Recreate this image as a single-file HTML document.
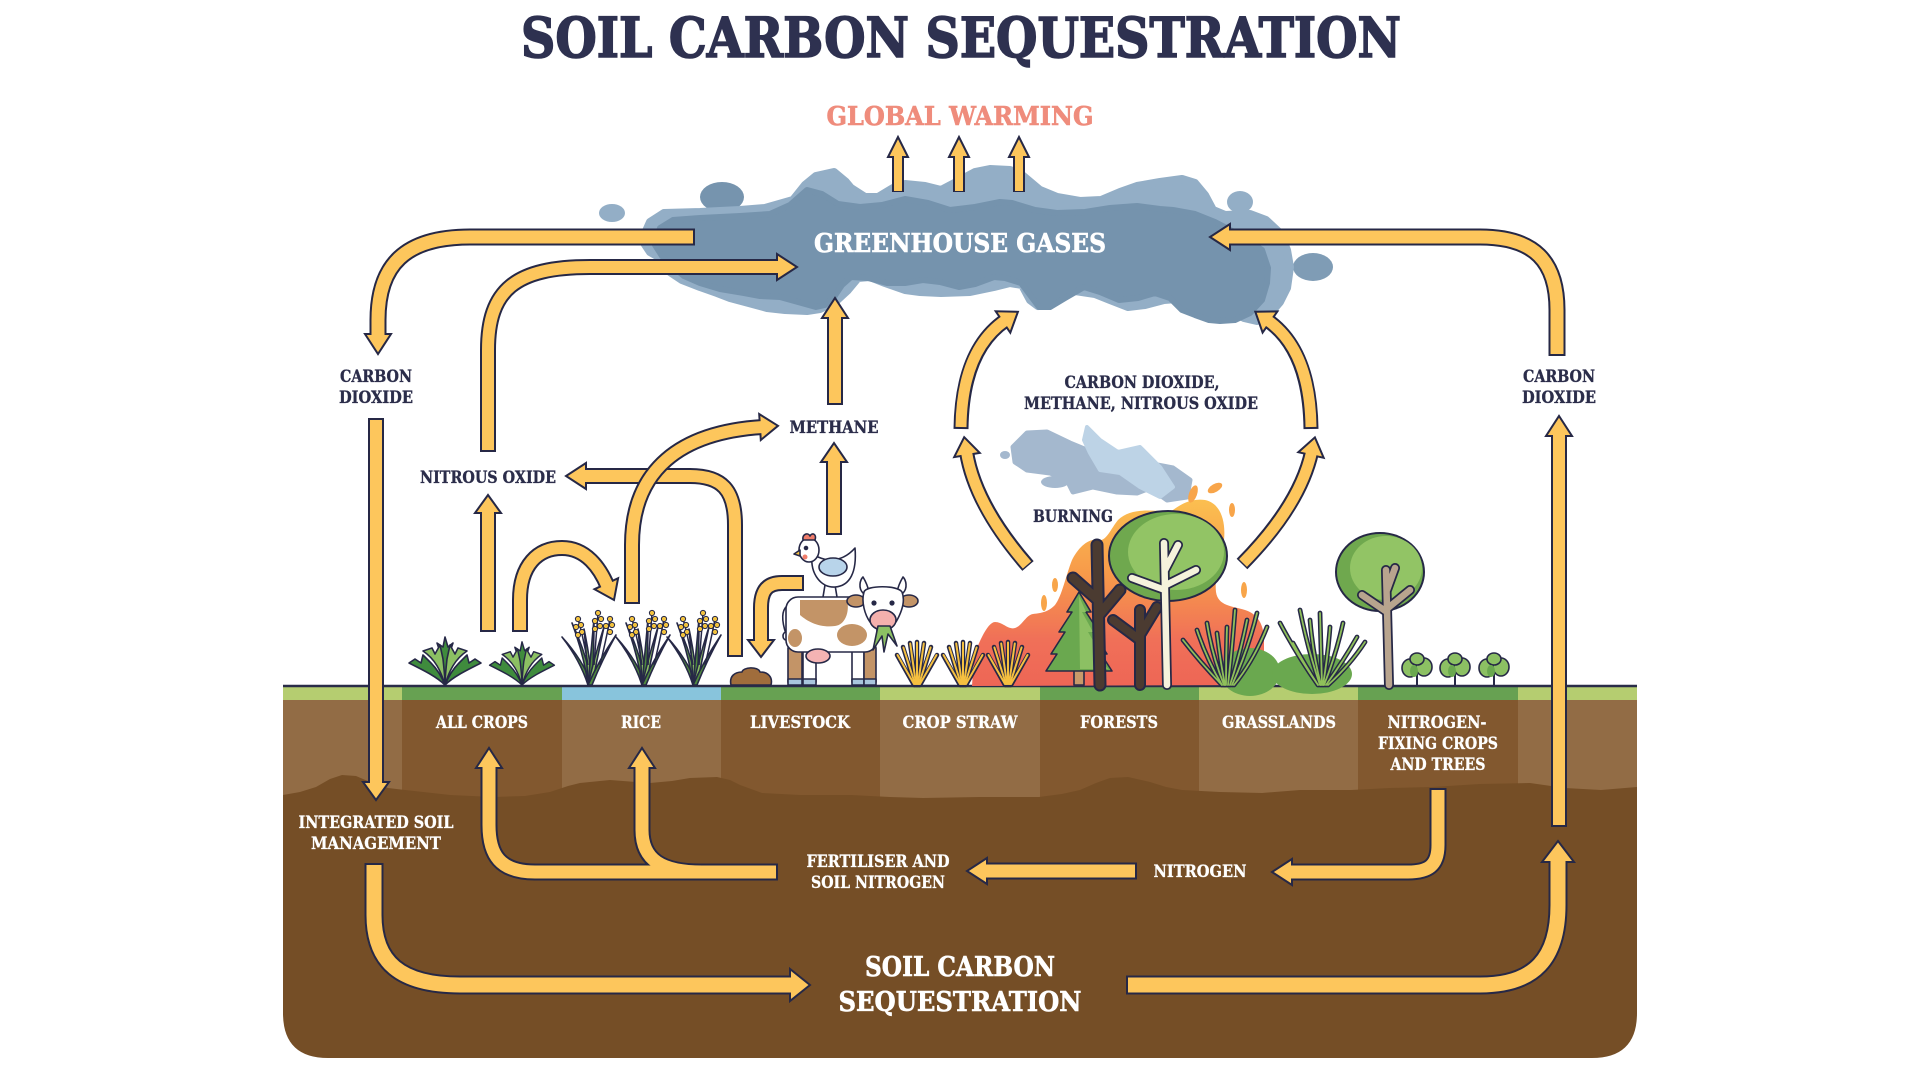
<!DOCTYPE html>
<html><head><meta charset="utf-8"><title>Soil Carbon Sequestration</title>
<style>
html,body{margin:0;padding:0;background:#fff;}
svg{display:block;}
.d{fill:none;stroke:#262846;stroke-linejoin:round;}
.y{fill:none;stroke:#fdc65c;stroke-linejoin:round;}
.h{fill:#fdc65c;stroke:#262846;stroke-width:2;stroke-linejoin:miter;}
.t{font-family:"DejaVu Serif","Liberation Serif",serif;font-weight:bold;}
.o{stroke:#262846;stroke-width:1.6;stroke-linejoin:round;}
</style></head>
<body>
<svg width="1920" height="1080" viewBox="0 0 1920 1080" xmlns="http://www.w3.org/2000/svg">
<defs>
<linearGradient id="fire" x1="0" y1="500" x2="0" y2="686" gradientUnits="userSpaceOnUse">
<stop offset="0" stop-color="#fbbf50"/><stop offset="0.4" stop-color="#f79a4a"/><stop offset="0.75" stop-color="#f07058"/><stop offset="1" stop-color="#ee6656"/>
</linearGradient>
<g id="leafy">
<path class="o" fill="#3f8b3d" d="M0,0 C-8,-8 -20,-14 -36,-22 L-30,-26 L-24,-22 L-22,-30 L-14,-22 C-8,-16 -4,-10 0,0Z"/>
<path class="o" fill="#3f8b3d" d="M0,0 C8,-8 20,-14 36,-22 L30,-26 L24,-22 L22,-30 L14,-22 C8,-16 4,-10 0,0Z"/>
<path class="o" fill="#3f8b3d" d="M0,0 L-4,-30 L-8,-42 L-2,-38 L0,-48 L3,-38 L8,-42 L4,-30 Z"/>
<path class="o" fill="#8cc063" d="M0,0 C-4,-14 -10,-26 -22,-34 L-13,-37 L-10,-31 L-5,-40 L-2,-26 C-1,-16 0,-8 0,0Z"/>
<path class="o" fill="#8cc063" d="M0,0 C4,-14 10,-26 22,-34 L13,-37 L10,-31 L5,-40 L2,-26 C1,-16 0,-8 0,0Z"/>
</g>
<g id="rice">
<path class="o" fill="#4f8a3e" d="M-2,0 Q-10,-25 -28,-48 Q-7,-25 2,0Z"/>
<path class="o" fill="#5f9a48" d="M-2,0 Q-6,-30 -18,-62 Q-3,-30 2,0Z"/>
<path class="o" fill="#8cc063" d="M-2,0 Q-3,-28 -6,-56 Q0,-28 2,0Z"/>
<path class="o" fill="#4f8a3e" d="M-2,0 Q1,-33 4,-66 Q4,-33 2,0Z"/>
<path class="o" fill="#8cc063" d="M-2,0 Q5,-30 14,-58 Q8,-30 2,0Z"/>
<path class="o" fill="#4f8a3e" d="M-2,0 Q9,-25 26,-50 Q12,-25 2,0Z"/>
<path d="M-2,-20 Q-6,-45 -12,-66 M4,-20 Q6,-45 8,-72 M10,-20 Q16,-45 20,-66" fill="none" stroke="#262846" stroke-width="1.5"/>
<g fill="#f2c23e" stroke="#262846" stroke-width="1">
<circle cx="-12" cy="-66" r="2.6"/><circle cx="-9" cy="-60" r="2.6"/><circle cx="-14" cy="-58" r="2.6"/><circle cx="-8" cy="-53" r="2.6"/><circle cx="-12" cy="-50" r="2.6"/>
<circle cx="8" cy="-72" r="2.6"/><circle cx="11" cy="-66" r="2.6"/><circle cx="5" cy="-64" r="2.6"/><circle cx="10" cy="-59" r="2.6"/><circle cx="5" cy="-56" r="2.6"/>
<circle cx="20" cy="-66" r="2.6"/><circle cx="22" cy="-60" r="2.6"/><circle cx="16" cy="-59" r="2.6"/><circle cx="20" cy="-53" r="2.6"/>
</g>
</g>
<g id="straw">
<g stroke="#262846" stroke-width="4.5" stroke-linecap="round">
<line x1="-3" y1="0" x2="-20" y2="-30"/><line x1="-2" y1="0" x2="-14" y2="-38"/><line x1="-1" y1="0" x2="-7" y2="-42"/><line x1="0" y1="0" x2="0" y2="-43"/><line x1="1" y1="0" x2="7" y2="-42"/><line x1="2" y1="0" x2="14" y2="-38"/><line x1="3" y1="0" x2="20" y2="-30"/>
</g>
<g stroke="#f5c040" stroke-width="2" stroke-linecap="round">
<line x1="-3" y1="-1" x2="-19.5" y2="-30"/><line x1="-2" y1="-1" x2="-13.6" y2="-37.5"/><line x1="-1" y1="-1" x2="-6.8" y2="-41.5"/><line x1="0" y1="-1" x2="0" y2="-42.5"/><line x1="1" y1="-1" x2="6.8" y2="-41.5"/><line x1="2" y1="-1" x2="13.6" y2="-37.5"/><line x1="3" y1="-1" x2="19.5" y2="-30"/>
</g>
</g>
<g id="sp">
<line x1="0" y1="0" x2="0" y2="-18" stroke="#262846" stroke-width="2"/>
<ellipse class="o" cx="-7" cy="-17" rx="8" ry="9" fill="#8cc063"/>
<ellipse class="o" cx="7" cy="-18" rx="8" ry="9" fill="#8cc063"/>
<ellipse class="o" cx="0" cy="-26" rx="7" ry="6" fill="#8cc063"/>
<ellipse cx="-3" cy="-14" rx="4" ry="6" fill="#6aa84f"/>
</g>
</defs>

<rect width="1920" height="1080" fill="#fff"/>

<!-- Title -->
<text class="t" x="961" y="57" font-size="55" textLength="880" lengthAdjust="spacingAndGlyphs" text-anchor="middle" fill="#2e3150" stroke="#2e3150" stroke-width="1.6">SOIL CARBON SEQUESTRATION</text>
<text class="t" x="960" y="125" font-size="26" textLength="267" lengthAdjust="spacingAndGlyphs" text-anchor="middle" fill="#ef8c7c" stroke="#ef8c7c" stroke-width="0.6">GLOBAL WARMING</text>

<!-- Greenhouse cloud -->
<g stroke-linejoin="round">
<ellipse cx="612" cy="213" rx="13" ry="9" fill="#93aec6"/>
<ellipse cx="722" cy="197" rx="22" ry="15" fill="#7694ae"/>
<ellipse cx="1240" cy="202" rx="13" ry="11" fill="#93aec6"/>
<ellipse cx="1313" cy="267" rx="20" ry="14" fill="#7f9cb5"/>
<polygon fill="#93aec6" stroke="#93aec6" stroke-width="8" points="642,240 650,222 664,213 700,212 740,210 765,208 793,200 805,185 816,176 834,172 846,182 851,188 865,197 878,197 893,188 905,184 925,186 941,190 960,180 975,172 990,169 1010,170 1021,174 1040,190 1057,197 1080,201 1101,200 1120,192 1137,186 1160,182 1182,179 1195,183 1205,195 1213,210 1225,215 1250,214 1266,220 1280,233 1287,250 1290,267 1287,288 1280,302 1268,316 1257,321 1244,318 1233,312 1220,304 1209,300 1190,298 1164,300 1145,305 1128,307 1110,300 1095,294 1075,291 1060,293 1048,298 1038,306 1030,300 1022,285 1010,283 994,287 970,292 941,293 920,292 905,290 885,283 870,277 858,278 848,290 835,302 820,309 807,311 785,310 767,308 745,302 730,298 717,293 700,287 682,280 670,272 664,260 650,252"/>
<polygon fill="#7593ad" stroke="#7593ad" stroke-width="6" points="655,245 660,228 673,220 700,218 740,216 770,214 790,205 807,190 822,194 838,204 860,207 882,205 905,199 928,203 950,210 975,207 1000,202 1012,203 1035,210 1057,213 1085,212 1110,208 1137,206 1160,209 1173,210 1195,214 1215,222 1240,235 1262,250 1268,268 1267,283 1262,300 1250,313 1235,320 1220,321 1209,320 1195,315 1182,310 1170,298 1155,293 1138,298 1119,300 1100,292 1084,287 1065,298 1050,307 1039,307 1030,295 1021,283 1005,278 994,277 975,284 959,287 940,282 923,280 905,283 887,283 868,278 851,277 842,285 834,297 825,305 816,307 798,302 780,297 760,296 744,293 720,289 700,283 684,276 673,267 662,256"/>
</g>

<!-- Burning smoke -->
<g stroke-linejoin="round">
<polygon fill="#a4b8ce" stroke="#a4b8ce" stroke-width="5" points="1013,447 1027,433 1047,432 1070,443 1087,450 1103,447 1120,453 1147,463 1173,468 1190,480 1187,497 1167,500 1150,488 1137,493 1117,492 1093,487 1073,492 1067,480 1050,473 1027,470 1015,462"/>
<polygon fill="#bdd3e6" stroke="#bdd3e6" stroke-width="4" points="1087,427 1100,440 1118,452 1140,447 1160,467 1173,487 1160,497 1140,487 1120,473 1100,470 1090,453 1084,440"/>
<ellipse cx="1005" cy="455" rx="5" ry="4" fill="#a4b8ce"/>
<ellipse cx="1055" cy="482" rx="14" ry="6" fill="#a4b8ce"/>
</g>

<!-- Soil -->
<path d="M283,700 L1637,700 L1637,1013 Q1637,1058 1592,1058 L328,1058 Q283,1058 283,1013 Z" fill="#754e26"/>
<rect x="283" y="700" width="119" height="105" fill="#926c45"/>
<rect x="402" y="700" width="160" height="105" fill="#82582f"/>
<rect x="562" y="700" width="159" height="105" fill="#926c45"/>
<rect x="721" y="700" width="159" height="105" fill="#82582f"/>
<rect x="880" y="700" width="160" height="105" fill="#926c45"/>
<rect x="1040" y="700" width="159" height="105" fill="#82582f"/>
<rect x="1199" y="700" width="159" height="105" fill="#926c45"/>
<rect x="1358" y="700" width="160" height="105" fill="#82582f"/>
<rect x="1518" y="700" width="119" height="105" fill="#926c45"/>
<path fill="#754e26" d="M283,795 L300,792 L316,787 L330,779 L342,775 L356,776 L370,782 L388,788 L405,790 L450,795 L494,797 L525,796 L550,792 L568,786 L580,783 L610,780 L650,783 L672,781 L690,778 L717,777 L730,780 L740,785 L762,793 L800,795 L851,795 L890,797 L923,798 L980,797 L1039,797 L1062,794 L1080,790 L1096,783 L1110,778 L1128,777 L1150,782 L1166,787 L1182,790 L1220,792 L1262,793 L1300,790 L1351,790 L1390,788 L1432,787 L1480,784 L1530,783 L1565,788 L1601,790 L1637,787 L1637,810 L283,810 Z"/>
<rect x="283" y="687" width="119" height="13" fill="#b5cd70"/>
<rect x="402" y="687" width="160" height="13" fill="#67a152"/>
<rect x="562" y="687" width="159" height="13" fill="#88c4dc"/>
<rect x="721" y="687" width="159" height="13" fill="#67a152"/>
<rect x="880" y="687" width="160" height="13" fill="#b5cd70"/>
<rect x="1040" y="687" width="159" height="13" fill="#67a152"/>
<rect x="1199" y="687" width="159" height="13" fill="#b5cd70"/>
<rect x="1358" y="687" width="160" height="13" fill="#67a152"/>
<rect x="1518" y="687" width="119" height="13" fill="#b5cd70"/>
<line x1="283" y1="686" x2="1637" y2="686" stroke="#2a2c48" stroke-width="2.5"/>

<!-- Fire -->
<path fill="url(#fire)" d="M972,686 L974,655 C980,640 988,622 995,622 C1003,622 1008,630 1015,628 C1022,626 1026,615 1033,614 C1042,613 1048,612 1055,605 C1062,596 1066,575 1072,560 C1078,548 1088,538 1098,540 C1106,542 1110,530 1118,520 C1130,508 1150,510 1170,512 C1180,505 1190,498 1205,500 C1220,503 1226,520 1224,540 C1222,560 1214,575 1216,592 C1218,606 1232,606 1245,610 C1258,614 1264,625 1264,640 L1264,685 Z"/>
<g fill="#f8a54a">
<ellipse cx="1193" cy="494" rx="4" ry="9" transform="rotate(20 1193 494)"/>
<ellipse cx="1215" cy="488" rx="8" ry="4" transform="rotate(-30 1215 488)"/>
<ellipse cx="1044" cy="603" rx="3" ry="8"/>
<ellipse cx="1055" cy="585" rx="3" ry="7"/>
<ellipse cx="1244" cy="590" rx="3" ry="8"/>
<ellipse cx="1232" cy="510" rx="3" ry="7"/>
</g>

<!-- All crops plants -->
<use href="#leafy" transform="translate(445,685)"/>
<use href="#leafy" transform="translate(522,685) scale(0.9)"/>
<!-- Rice -->
<use href="#rice" transform="translate(590,685)"/>
<use href="#rice" transform="translate(644,685)"/>
<use href="#rice" transform="translate(695,685)"/>
<!-- Manure -->
<path class="o" fill="#a06d3c" d="M731,685 C729,676 735,672 742,672 C743,667 758,666 760,672 C768,672 773,677 771,685 Z"/>

<!-- Cow -->
<g class="o">
<path d="M787,606 C780,612 783,625 786,634" fill="none"/>
<ellipse cx="786" cy="636" rx="3" ry="4" fill="#fff"/>
<rect x="788" y="645" width="14" height="40" rx="3" fill="#c39467"/>
<rect x="803" y="645" width="13" height="40" rx="3" fill="#fff"/>
<rect x="852" y="645" width="12" height="40" rx="3" fill="#fff"/>
<rect x="864" y="645" width="12" height="40" rx="3" fill="#c39467"/>
<rect x="786" y="597" width="91" height="55" rx="12" fill="#fff"/>
<path d="M800,600 L847,600 C850,612 845,625 835,626 C820,628 808,622 800,615Z" fill="#c39467" stroke="none"/>
<ellipse cx="852" cy="635" rx="15" ry="11" fill="#c39467" stroke="none"/>
<ellipse cx="795" cy="638" rx="7" ry="9" fill="#c39467" stroke="none"/>
<ellipse cx="818" cy="656" rx="12" ry="7" fill="#f4b3b3"/>
<rect x="788" y="679" width="14" height="6" fill="#a9c6dd"/>
<rect x="803" y="679" width="13" height="6" fill="#a9c6dd"/>
<rect x="852" y="679" width="12" height="6" fill="#a9c6dd"/>
<rect x="864" y="679" width="12" height="6" fill="#a9c6dd"/>
<path d="M863,593 C858,588 860,580 863,577 C866,582 868,587 869,592Z" fill="#fff"/>
<path d="M903,593 C908,588 906,580 903,577 C900,582 898,587 897,592Z" fill="#fff"/>
<ellipse cx="856" cy="601" rx="9" ry="6" fill="#c39467"/>
<ellipse cx="909" cy="601" rx="9" ry="6" fill="#c39467"/>
<path d="M864,592 C866,585 898,585 902,592 C906,602 900,615 896,622 L870,622 C865,615 861,602 864,592Z" fill="#fff"/>
<ellipse cx="883" cy="620" rx="13" ry="10" fill="#f4b0ad"/>
<circle cx="874" cy="603" r="1.8" fill="#262846"/>
<circle cx="892" cy="603" r="1.8" fill="#262846"/>
<path d="M878,626 L873,650 L882,636 L884,652 L888,634 L897,646 L890,626Z" fill="#8cc063"/>
</g>
<!-- Chicken -->
<g class="o">
<line x1="825" y1="585" x2="823" y2="597"/>
<line x1="835" y1="585" x2="837" y2="597"/>
<path d="M812,555 C810,575 822,588 835,587 C850,586 857,572 855,548 C848,556 840,560 830,560 C822,560 818,556 812,555Z" fill="#fff"/>
<ellipse cx="833" cy="567" rx="14" ry="9" fill="#b8d4ea"/>
<ellipse cx="809" cy="550" rx="10" ry="12" fill="#fff"/>
<path d="M803,540 C802,534 808,532 810,536 C812,532 817,534 815,540Z" fill="#f07d6b"/>
<path d="M800,550 L794,554 L800,556Z" fill="#f5c040"/>
<circle cx="806" cy="548" r="1.5" fill="#262846"/>
<circle cx="805" cy="557" r="2.5" fill="#f07d6b" stroke="none"/>
</g>

<!-- Crop straw -->
<use href="#straw" transform="translate(917,685)"/>
<use href="#straw" transform="translate(963,685)"/>
<use href="#straw" transform="translate(1008,685)"/>

<!-- Forest -->
<g class="o">
<rect x="1074" y="668" width="10" height="17" fill="#c89a6a"/>
<polygon fill="#6aa84f" points="1079,592 1067,612 1072,612 1059,632 1065,632 1051,654 1057,654 1046,671 1112,671 1101,654 1107,654 1093,632 1099,632 1086,612 1091,612"/>
<polygon fill="#8cc063" stroke="none" points="1079,596 1086,612 1082,612 1093,632 1088,632 1101,654 1096,654 1108,669 1080,669"/>
</g>
<g stroke-linecap="round" fill="none">
<path d="M1100,685 L1097,545 M1098,600 L1073,578 M1099,615 L1120,590" stroke="#262846" stroke-width="13"/>
<path d="M1100,685 L1097,545 M1098,600 L1073,578 M1099,615 L1120,590" stroke="#4b3b31" stroke-width="9"/>
<path d="M1140,685 L1140,610 M1140,640 L1113,620 M1140,635 L1157,607" stroke="#262846" stroke-width="12"/>
<path d="M1140,685 L1140,610 M1140,640 L1113,620 M1140,635 L1157,607" stroke="#4b3b31" stroke-width="8"/>
</g>
<ellipse cx="1168" cy="556" rx="59" ry="45" fill="#6fa84e" stroke="#262846" stroke-width="2"/>
<ellipse cx="1176" cy="552" rx="48" ry="38" fill="#92c465"/>
<g stroke-linecap="round" fill="none">
<path d="M1167,685 L1164,543 M1165,590 L1132,578 M1166,585 L1196,570 M1165,570 L1178,545" stroke="#262846" stroke-width="10"/>
<path d="M1167,685 L1164,543 M1165,590 L1132,578 M1166,585 L1196,570 M1165,570 L1178,545" stroke="#f5f2dc" stroke-width="6.5"/>
</g>

<!-- Grasslands -->
<ellipse cx="1250" cy="672" rx="30" ry="24" fill="#6aa84f"/>
<ellipse cx="1312" cy="674" rx="40" ry="20" fill="#6aa84f"/>
<g fill="none" stroke-linecap="round">
<path stroke="#262846" stroke-width="4.8" d="M1222,685 Q1200,662 1183,640 M1222,685 Q1207,660 1197,630 M1224,685 Q1212,655 1207,623 M1225,685 Q1220,660 1217,633 M1226,685 Q1226,655 1227,627 M1228,685 Q1232,650 1235,610 M1230,685 Q1240,655 1247,620 M1232,685 Q1248,650 1257,613 M1234,685 Q1254,660 1267,627 M1318,685 Q1297,655 1280,623 M1318,685 Q1305,665 1293,643 M1320,685 Q1308,650 1300,610 M1321,685 Q1313,655 1310,620 M1322,685 Q1321,650 1320,613 M1323,685 Q1328,655 1330,627 M1324,685 Q1336,655 1343,623 M1326,685 Q1344,660 1357,637 M1328,685 Q1350,665 1365,642"/>
<path stroke="#8fc05a" stroke-width="1.8" d="M1222,685 Q1200,662 1183,640 M1222,685 Q1207,660 1197,630 M1224,685 Q1212,655 1207,623 M1225,685 Q1220,660 1217,633 M1226,685 Q1226,655 1227,627 M1228,685 Q1232,650 1235,610 M1230,685 Q1240,655 1247,620 M1232,685 Q1248,650 1257,613 M1234,685 Q1254,660 1267,627 M1318,685 Q1297,655 1280,623 M1318,685 Q1305,665 1293,643 M1320,685 Q1308,650 1300,610 M1321,685 Q1313,655 1310,620 M1322,685 Q1321,650 1320,613 M1323,685 Q1328,655 1330,627 M1324,685 Q1336,655 1343,623 M1326,685 Q1344,660 1357,637 M1328,685 Q1350,665 1365,642"/>
</g>

<!-- Nitrogen-fixing tree and plants -->
<ellipse cx="1380" cy="572" rx="44" ry="39" fill="#6fa84e" stroke="#262846" stroke-width="2"/>
<ellipse cx="1386" cy="568" rx="36" ry="32" fill="#92c465"/>
<g stroke-linecap="round" fill="none">
<path d="M1389,685 L1386,570 M1387,612 L1362,595 M1388,608 L1410,590 M1387,590 L1395,568" stroke="#262846" stroke-width="10"/>
<path d="M1389,685 L1386,570 M1387,612 L1362,595 M1388,608 L1410,590 M1387,590 L1395,568" stroke="#b8a48e" stroke-width="6.5"/>
</g>
<use href="#sp" transform="translate(1417,685)"/>
<use href="#sp" transform="translate(1455,685)"/>
<use href="#sp" transform="translate(1494,685)"/>

<!-- ARROWS -->
<g>
<path class="d" stroke-width="12" d="M898,192 L898,154 M959,192 L959,154 M1019,192 L1019,154"/>
<polygon class="h" points="898,137 888,157 908,157"/>
<polygon class="h" points="959,137 949,157 969,157"/>
<polygon class="h" points="1019,137 1009,157 1029,157"/>
<path class="y" stroke-width="8" d="M898,191 L898,154 M959,191 L959,154 M1019,191 L1019,154"/>
</g>
<g>
<path class="d" stroke-width="17" d="M695,237 L470,237 C405,237 378,265 378,320 L378,337"/>
<polygon class="h" points="365,334 391,334 378,354"/>
<path class="y" stroke-width="13" d="M693,237 L470,237 C405,237 378,265 378,320 L378,337"/>
</g>
<g>
<path class="d" stroke-width="16" d="M376,418 L376,785"/>
<polygon class="h" points="363,782 389,782 376,800"/>
<path class="y" stroke-width="12" d="M376,420 L376,785"/>
</g>
<g>
<path class="d" stroke-width="16" d="M488,452 L488,350 C488,290 515,267 590,267 L780,267"/>
<polygon class="h" points="777,254 777,280 797,267"/>
<path class="y" stroke-width="12" d="M488,450 L488,350 C488,290 515,267 590,267 L780,267"/>
</g>
<g>
<path class="d" stroke-width="16" d="M735,657 L735,525 C735,490 722,476 690,476 L583,476"/>
<polygon class="h" points="586,463 586,489 566,476"/>
<path class="y" stroke-width="12" d="M735,655 L735,525 C735,490 722,476 690,476 L583,476"/>
</g>
<g>
<path class="d" stroke-width="16" d="M632,604 L632,545 C632,470 680,432 763,427"/>
<polygon class="h" points="760.8,440 759.2,414 778,425.8"/>
<path class="y" stroke-width="12" d="M632,602 L632,545 C632,470 680,432 763,427"/>
</g>
<g>
<path class="d" stroke-width="16" d="M520,632 L520,600 C520,565 538,548 562,548 C586,548 600,568 607.6,586.4"/>
<polygon class="h" points="594.5,589.2 618.1,578.2 614,600"/>
<path class="y" stroke-width="12" d="M520,630 L520,600 C520,565 538,548 562,548 C586,548 600,568 607.6,586.4"/>
</g>
<g>
<path class="d" stroke-width="16" d="M488,632 L488,510"/>
<polygon class="h" points="475,513 501,513 488,495"/>
<path class="y" stroke-width="12" d="M488,630 L488,510"/>
</g>
<g>
<path class="d" stroke-width="16" d="M834,535 L834,459"/>
<polygon class="h" points="821,462 847,462 834,443"/>
<path class="y" stroke-width="12" d="M834,533 L834,459"/>
</g>
<g>
<path class="d" stroke-width="16" d="M835,405 L835,315"/>
<polygon class="h" points="822,318 848,318 835,298"/>
<path class="y" stroke-width="12" d="M835,403 L835,315"/>
</g>
<g>
<path class="d" stroke-width="16" d="M804,583 L782,583 C766,583 761,592 761,608 L761,643"/>
<polygon class="h" points="748,640 774,640 761,657"/>
<path class="y" stroke-width="12" d="M802,583 L782,583 C766,583 761,592 761,608 L761,643"/>
</g>
<g>
<path class="d" stroke-width="15" d="M1028,566 Q975,505 966.5,452 M961,429 Q962,350 1005.5,320.3 M1311,429 Q1310,350 1267.5,320.3 M1242,564 Q1300,505 1311.6,452"/>
<polygon class="h" points="979.8,452.9 954.2,457.1 964.2,437.2"/>
<polygon class="h" points="1010.3,332.7 995.7,311.3 1017.9,311.8"/>
<polygon class="h" points="1277.4,311.4 1262.6,332.6 1255.3,311.7"/>
<polygon class="h" points="1323.7,457.8 1298.3,452.2 1314.9,437.4"/>
<path class="y" stroke-width="11" d="M1027,565 Q975,505 966.5,452 M961,427 Q962,350 1005.5,320.3 M1311,427 Q1310,350 1267.5,320.3 M1243,563 Q1300,505 1311.6,452"/>
</g>
<g>
<path class="d" stroke-width="17" d="M1557,356 L1557,310 C1557,262 1535,237 1480,237 L1227,237"/>
<polygon class="h" points="1230,224 1230,250 1210,237"/>
<path class="y" stroke-width="13" d="M1557,354 L1557,310 C1557,262 1535,237 1480,237 L1227,237"/>
</g>
<g>
<path class="d" stroke-width="16" d="M1559,827 L1559,433"/>
<polygon class="h" points="1546,436 1572,436 1559,416"/>
<path class="y" stroke-width="12" d="M1559,825 L1559,433"/>
</g>
<g>
<path class="d" stroke-width="19" d="M374,863 L374,915 C374,962 400,985 460,985 L793,985"/>
<polygon class="h" points="790,969 790,1001 810,985"/>
<path class="y" stroke-width="15" d="M374,865 L374,915 C374,962 400,985 460,985 L793,985"/>
</g>
<g>
<path class="d" stroke-width="19" d="M1126,985 L1480,985 C1535,985 1558,958 1558,905 L1558,859"/>
<polygon class="h" points="1542,862 1574,862 1558,841"/>
<path class="y" stroke-width="15" d="M1128,985 L1480,985 C1535,985 1558,958 1558,905 L1558,859"/>
</g>
<g>
<path class="d" stroke-width="17" d="M778,872 L535,872 C500,872 489,855 489,825 L489,765 M700,872 C662,872 642,860 642,830 L642,765"/>
<polygon class="h" points="476,768 502,768 489,748"/>
<polygon class="h" points="629,768 655,768 642,748"/>
<path class="y" stroke-width="13" d="M776,872 L535,872 C500,872 489,855 489,825 L489,765 M702,872 C662,872 642,860 642,830 L642,765"/>
</g>
<g>
<path class="d" stroke-width="17" d="M1137,871 L984,871"/>
<polygon class="h" points="987,858 987,884 967,871"/>
<path class="y" stroke-width="13" d="M1135,871 L984,871"/>
</g>
<g>
<path class="d" stroke-width="17" d="M1438,788 L1438,845 C1438,866 1428,872 1408,872 L1289,872"/>
<polygon class="h" points="1292,859 1292,885 1272,872"/>
<path class="y" stroke-width="13" d="M1438,790 L1438,845 C1438,866 1428,872 1408,872 L1289,872"/>
</g>

<!-- Labels -->
<g class="t" text-anchor="middle">
<text x="960" y="252" font-size="26" textLength="292" lengthAdjust="spacingAndGlyphs" fill="#fff" stroke="#fff" stroke-width="0.6">GREENHOUSE GASES</text>
<g fill="#2b2d4a" stroke="#2b2d4a" stroke-width="0.35" font-size="17">
<text x="376" y="382" textLength="72" lengthAdjust="spacingAndGlyphs">CARBON</text>
<text x="376" y="403" textLength="74" lengthAdjust="spacingAndGlyphs">DIOXIDE</text>
<text x="1559" y="382" textLength="72" lengthAdjust="spacingAndGlyphs">CARBON</text>
<text x="1559" y="403" textLength="74" lengthAdjust="spacingAndGlyphs">DIOXIDE</text>
<text x="488" y="483" textLength="136" lengthAdjust="spacingAndGlyphs">NITROUS OXIDE</text>
<text x="834" y="433" textLength="89" lengthAdjust="spacingAndGlyphs">METHANE</text>
<text x="1142" y="388" textLength="155" lengthAdjust="spacingAndGlyphs">CARBON DIOXIDE,</text>
<text x="1141" y="409" textLength="234" lengthAdjust="spacingAndGlyphs">METHANE, NITROUS OXIDE</text>
<text x="1073" y="522" textLength="80" lengthAdjust="spacingAndGlyphs">BURNING</text>
</g>
<g fill="#fff" stroke="#fff" stroke-width="0.3" font-size="16.5">
<text x="482" y="728" textLength="92" lengthAdjust="spacingAndGlyphs">ALL CROPS</text>
<text x="641" y="728" textLength="40" lengthAdjust="spacingAndGlyphs">RICE</text>
<text x="800" y="728" textLength="100" lengthAdjust="spacingAndGlyphs">LIVESTOCK</text>
<text x="960" y="728" textLength="115" lengthAdjust="spacingAndGlyphs">CROP STRAW</text>
<text x="1119" y="728" textLength="78" lengthAdjust="spacingAndGlyphs">FORESTS</text>
<text x="1279" y="728" textLength="114" lengthAdjust="spacingAndGlyphs">GRASSLANDS</text>
<text x="1437" y="728" textLength="99" lengthAdjust="spacingAndGlyphs">NITROGEN-</text>
<text x="1438" y="749" textLength="120" lengthAdjust="spacingAndGlyphs">FIXING CROPS</text>
<text x="1438" y="770" textLength="95" lengthAdjust="spacingAndGlyphs">AND TREES</text>
<text x="376" y="828" textLength="155" lengthAdjust="spacingAndGlyphs">INTEGRATED SOIL</text>
<text x="376" y="849" textLength="130" lengthAdjust="spacingAndGlyphs">MANAGEMENT</text>
<text x="878" y="867" textLength="143" lengthAdjust="spacingAndGlyphs">FERTILISER AND</text>
<text x="878" y="888" textLength="134" lengthAdjust="spacingAndGlyphs">SOIL NITROGEN</text>
<text x="1200" y="877" textLength="93" lengthAdjust="spacingAndGlyphs">NITROGEN</text>
</g>
<text x="960" y="976" font-size="27.5" textLength="190" lengthAdjust="spacingAndGlyphs" fill="#fff" stroke="#fff" stroke-width="0.6">SOIL CARBON</text>
<text x="960" y="1011" font-size="27.5" textLength="243" lengthAdjust="spacingAndGlyphs" fill="#fff" stroke="#fff" stroke-width="0.6">SEQUESTRATION</text>
</g>
</svg>
</body></html>
